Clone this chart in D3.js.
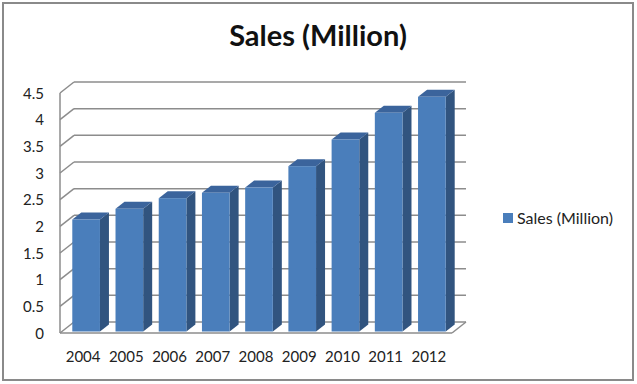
<!DOCTYPE html>
<html>
<head>
<meta charset="utf-8">
<script src="https://cdn.jsdelivr.net/npm/d3@7"></script>
<style>
  body { margin: 0; background: #fff; }
  text { font-family: Lato, "Open Sans", sans-serif; }
</style>
</head>
<body>
<div id="visArea"></div>
<script>
var years = ['2004', '2005', '2006', '2007', '2008', '2009', '2010', '2011', '2012'];
var sales = [2.1, 2.3, 2.5, 2.6, 2.7, 3.1, 3.6, 4.1, 4.4];
var yTicks = [0, 0.5, 1, 1.5, 2, 2.5, 3, 3.5, 4, 4.5];
var seriesName = 'Sales (Million)';

var W = 637, H = 384;
var plotLeft = 60, plotRight = 452, plotBottom = 333, plotTop = 93;
var depth = { dx: 14, dy: -11 };   // wall depth
var barDepth = { dx: 9, dy: -7 };  // column depth
var barShift = { dx: 3, dy: -1.5 };

var svg = d3.select('#visArea').append('svg')
  .attr('width', W).attr('height', H);

// outer frame
svg.append('rect')
  .attr('x', 3).attr('y', 3).attr('width', 630).attr('height', 377)
  .attr('fill', '#fff').attr('stroke', '#8a8a8a').attr('stroke-width', 2);

var x = d3.scaleBand().domain(years).range([plotLeft, plotRight]).paddingOuter(0.035);
var y = d3.scaleLinear().domain([0, 4.5]).range([plotBottom, plotTop]);

var grid = svg.append('g').attr('class', 'grid')
  .attr('stroke', '#8c8c8c').attr('stroke-width', 1.5).attr('fill', 'none');

// back wall gridlines
grid.selectAll('line.back')
  .data(yTicks)
  .enter().append('line')
  .attr('class', 'back')
  .attr('x1', plotLeft + depth.dx).attr('x2', plotRight + depth.dx)
  .attr('y1', function(d){ return y(d) + depth.dy; })
  .attr('y2', function(d){ return y(d) + depth.dy; });

// side wall gridlines
grid.selectAll('line.side')
  .data(yTicks)
  .enter().append('line')
  .attr('class', 'side')
  .attr('x1', plotLeft).attr('x2', plotLeft + depth.dx)
  .attr('y1', function(d){ return y(d); })
  .attr('y2', function(d){ return y(d) + depth.dy; });

// floor front edge + right edge, axis line
grid.append('line')
  .attr('x1', plotLeft).attr('x2', plotRight).attr('y1', y(0)).attr('y2', y(0));
grid.append('line')
  .attr('x1', plotRight).attr('x2', plotRight + depth.dx)
  .attr('y1', y(0)).attr('y2', y(0) + depth.dy);
grid.append('line')
  .attr('x1', plotLeft).attr('x2', plotLeft).attr('y1', y(0)).attr('y2', y(4.5));

// columns
var bw = x.bandwidth() * 0.64;
var cols = svg.append('g').attr('class', 'bars').selectAll('g')
  .data(years.map(function(d, i){ return { year: d, v: sales[i] }; }))
  .enter().append('g');

function fx(d){ return x(d.year) + x.bandwidth() * 0.18 + barShift.dx; }
function fy(d){ return y(d.v) + barShift.dy; }
var by = y(0) + barShift.dy;

cols.append('polygon')
  .attr('fill', '#31547f')
  .attr('points', function(d){
    var x1 = fx(d) + bw, t = fy(d);
    return [[x1, t], [x1 + barDepth.dx, t + barDepth.dy],
            [x1 + barDepth.dx, by + barDepth.dy], [x1, by]].join(' ');
  });
cols.append('polygon')
  .attr('fill', '#3b649c')
  .attr('points', function(d){
    var x0 = fx(d), t = fy(d);
    return [[x0, t], [x0 + barDepth.dx, t + barDepth.dy],
            [x0 + bw + barDepth.dx, t + barDepth.dy], [x0 + bw, t]].join(' ');
  });
cols.append('rect')
  .attr('fill', '#4a7ebb')
  .attr('x', fx).attr('y', fy)
  .attr('width', bw)
  .attr('height', function(d){ return by - fy(d); });

// y labels
svg.append('g').selectAll('text')
  .data(yTicks)
  .enter().append('text')
  .attr('x', 44)
  .attr('y', function(d){ return y(d) + 5.5; })
  .attr('text-anchor', 'end')
  .style('font-size', '15px')
  .attr('fill', '#222')
  .text(function(d){ return d; });

// x labels
svg.append('g').selectAll('text')
  .data(years)
  .enter().append('text')
  .attr('x', function(d){ return x(d) + x.bandwidth() / 2; })
  .attr('y', 362)
  .attr('text-anchor', 'middle')
  .style('font-size', '15px')
  .attr('fill', '#222')
  .text(function(d){ return d; });

// title
svg.append('text')
  .attr('x', 318).attr('y', 46)
  .attr('text-anchor', 'middle')
  .style('font-size', '29px').style('font-weight', 'bold')
  .attr('fill', '#111')
  .text(seriesName);

// legend
svg.append('rect')
  .attr('x', 503).attr('y', 213).attr('width', 10).attr('height', 10)
  .attr('fill', '#4a7ebb');
svg.append('text')
  .attr('x', 517).attr('y', 224)
  .style('font-size', '16px')
  .attr('fill', '#222')
  .text(seriesName);
</script>
</body>
</html>
